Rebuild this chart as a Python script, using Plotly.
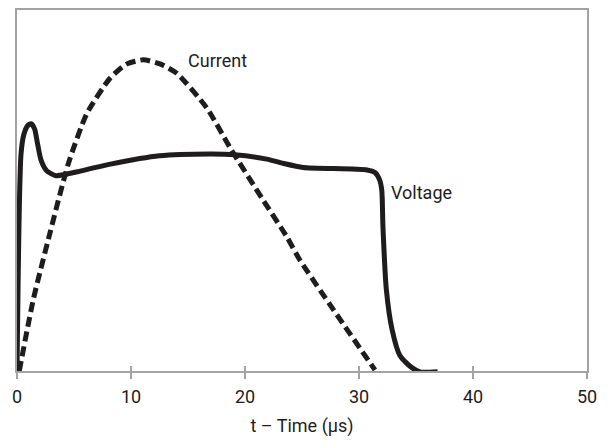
import plotly.graph_objects as go

# Voltage trace (time in µs, relative amplitude)
volt_t = [0.0, 0.1, 0.2, 0.35, 0.6, 0.95, 1.25, 1.55, 1.8, 2.1, 2.6, 3.4, 4.3, 5.3, 8.2,
          12.5, 16.9, 19.1, 21.9, 23.5, 25.1, 30.7, 31.4, 31.8, 32.0, 32.1, 32.4, 32.9,
          33.6, 34.6, 35.4, 36.9]
volt_v = [0.0, 25, 45, 60, 65.5, 68, 68.5, 67, 63, 58.5, 55.5, 54.1, 54.5, 55.2, 57.3,
          59.6, 60.1, 59.9, 58.7, 57.4, 56.4, 55.7, 55.0, 53.0, 50.0, 40, 22.5, 11.5,
          4.2, 1.0, -0.3, -0.2]

# Current trace
curr_t = [0.2, 1.43, 2.89, 4.5, 6.11, 8.16, 9.6, 11.08, 12.6, 14.0, 16.64, 18.68, 21.6,
          23.66, 24.8, 27.75, 31.4]
curr_v = [0, 19.8, 38.2, 57.4, 71.2, 81.1, 85, 86.2, 85, 82.5, 72.9, 61.9, 47.3,
          37.2, 30.8, 17.0, 0.3]

x_ticks = [0, 10, 20, 30, 40, 50]
labels = [("Current", 17.6, 86), ("Voltage", 35.5, 49.5)]

FONT = "Roboto, Liberation Sans, sans-serif"
GRAY = "#a3a3a3"
INK = "#1f1c1d"

fig = go.Figure()
fig.add_trace(go.Scatter(x=curr_t, y=curr_v, mode="lines", cliponaxis=False,
                         line=dict(color=INK, width=5, dash="10px,5px", shape="spline", smoothing=0.6),
                         hoverinfo="skip", showlegend=False))
fig.add_trace(go.Scatter(x=volt_t, y=volt_v, mode="lines", cliponaxis=False,
                         line=dict(color=INK, width=5, shape="spline", smoothing=0.6),
                         hoverinfo="skip", showlegend=False))
# invisible trace to carry the inner tick marks axis
fig.add_trace(go.Scatter(x=x_ticks, y=[0]*len(x_ticks), xaxis="x2", mode="lines",
                         opacity=0, hoverinfo="skip", showlegend=False))

for text, tx, ty in labels:
    fig.add_annotation(x=tx, y=ty, text=text, showarrow=False, xanchor="center", yanchor="middle",
                       font=dict(family=FONT, size=18, color=INK))

fig.update_layout(
    width=611, height=441,
    margin=dict(l=17, r=24, t=8, b=69),
    paper_bgcolor="white", plot_bgcolor="white",
    font=dict(family=FONT, size=18, color=INK),
    xaxis=dict(range=[0, 50], tickvals=x_ticks, ticktext=[str(v) for v in x_ticks],
               showgrid=False, zeroline=False, showline=True, linecolor=GRAY, linewidth=2,
               mirror=True, ticks="outside", ticklen=6, tickwidth=1.5, tickcolor=GRAY,
               ticklabelstandoff=2,
               title=dict(text="t – Time (µs)", font=dict(family=FONT, size=18, color=INK), standoff=14)),
    xaxis2=dict(range=[0, 50], overlaying="x", anchor="y", side="bottom", tickvals=x_ticks,
                showticklabels=False, showgrid=False, zeroline=False, showline=False,
                ticks="inside", ticklen=5, tickwidth=1.5, tickcolor=GRAY),
    yaxis=dict(range=[0, 100], showgrid=False, zeroline=False, showticklabels=False,
               showline=True, linecolor=GRAY, linewidth=2, mirror=True, ticks=""),
)

fig.write_html("out.html", config={"displayModeBar": False},
               post_script="document.body.style.margin='0';document.body.style.overflow='hidden';")
